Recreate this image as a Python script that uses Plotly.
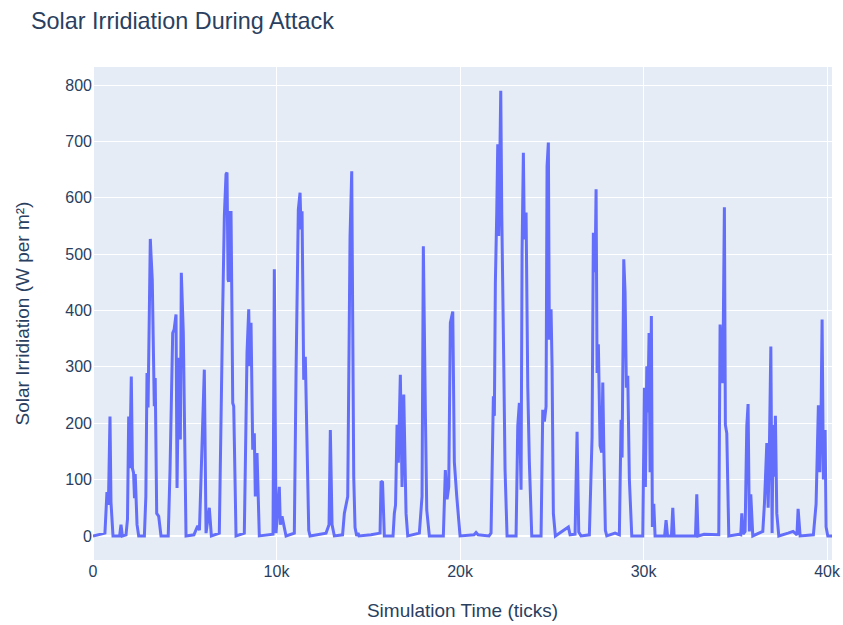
import plotly.graph_objects as go

# simulation ticks and irradiance values
ticks = [
    0, 330, 650, 760, 840, 926, 980, 1090, 1450, 1526, 1600, 1800, 1880, 1945, 2000, 2087,
    2150, 2210, 2262, 2300, 2400, 2490, 2800, 2880, 2943, 3000, 3123, 3160, 3230, 3340,
    3390, 3471, 3580, 3706, 4100, 4200, 4343, 4420, 4524, 4580, 4670, 4760, 4812, 4921,
    5000, 5069, 5500, 5706, 5800, 5886, 6066, 6160, 6338, 6450,
    6883, 7065, 7158, 7249, 7303, 7360, 7396, 7467, 7521, 7576, 7614, 7668, 7794,
    8246, 8393, 8486, 8540, 8611, 8704, 8791, 8845, 8938, 8992, 9063,
    9810, 9881, 9974, 10153, 10208, 10300, 10519,
    10971, 11064, 11118, 11189, 11282, 11336, 11391, 11483, 11570, 11647, 11756, 11827,
    12699, 12862, 12933, 13026, 13151,
    13600, 13696, 13881, 14007, 14099, 14154, 14208, 14279, 14372, 14443, 14497,
    15151, 15424, 15642, 15696, 15778, 15876,
    16350, 16421, 16486, 16568, 16639, 16748, 16841, 16933, 17004, 17059, 17151,
    17783, 17930, 18001, 18110, 18187, 18328,
    19091, 19200, 19293, 19385, 19473, 19604, 19691, 19822, 20002,
    20765, 20874, 20983, 21582,
    21691, 21817, 21871, 21926, 22002, 22056, 22111, 22165, 22220, 22274, 22329, 22383,
    22454, 22563,
    23054, 23146, 23234, 23326, 23381, 23452, 23506, 23599, 23692, 23778, 23909,
    24416, 24509, 24596, 24689, 24743, 24814, 24868, 24961, 25016, 25086, 25196,
    25904, 25997, 26269, 26378, 26470, 26596,
    27048, 27196, 27266, 27359, 27414, 27468, 27539, 27632, 27724, 27779, 27833, 27920, 27997,
    28449, 28683, 28776, 28831, 28923, 28994, 29065, 29141, 29228, 29359,
    29959, 30047, 30101, 30178, 30232, 30302, 30357, 30427, 30482, 30558, 30629,
    31150, 31228, 31310, 31520, 31594, 31665, 32830, 32902, 32973, 33300,
    34101, 34172, 34264, 34319, 34406, 34460, 34537, 34646,
    35207, 35300, 35354, 35425, 35534, 35627, 35697, 35768, 35844, 35954,
    36499, 36588, 36718, 36790, 36860, 36937, 37006, 37060, 37131, 37185, 37262, 37371,
    37878, 38150, 38360, 38423, 38532,
    39256, 39403, 39528, 39604, 39676, 39730, 39801, 39894, 39948, 40041, 40275,
]

irradiance = [
    0, 3, 5, 78, 55, 212, 60, 0, 0, 20, 0, 2, 30, 212, 120, 283,
    120, 112, 67, 110, 20, 0, 0, 70, 289, 228, 527, 500, 455, 230,
    280, 40, 35, 0, 0, 120, 360, 366, 393, 85, 316, 171, 467, 360,
    159, 0, 2, 18, 10, 100, 295, 5, 50, 0,
    5, 396, 568, 642, 645, 455, 451, 574, 574, 384, 236, 230, 0,
    5, 325, 402, 301, 378, 153, 182, 70, 147, 70, 0,
    3, 473, 5, 87, 20, 35, 0,
    5, 289, 449, 579, 609, 544, 576, 277, 318, 206, 10, 0,
    5, 20, 188, 20, 0,
    2, 40, 70, 530, 647, 318, 105, 15, 0, 5, 0,
    2, 4, 5, 97, 95, 0,
    0, 40, 55, 197, 130, 286, 87, 251, 160, 40, 0,
    5, 70, 514, 224, 46, 0,
    0, 117, 65, 87, 378, 398, 131, 70, 0,
    2, 6, 2, 0,
    5, 248, 213, 450, 574, 695, 532, 693, 790, 574, 372, 307,
    117, 0,
    0, 195, 236, 82, 503, 680, 526, 574, 265, 131, 0,
    0, 224, 203, 230, 656, 698, 348, 402, 301, 40, 0,
    16, 2, 3, 185, 7, 0,
    2, 176, 538, 468, 615, 289, 340, 160, 148, 272, 160, 10, 0,
    5, 2, 206, 139, 491, 432, 263, 284, 100, 0,
    0, 263, 87, 301, 219, 360, 113, 390, 16, 57, 0,
    0, 28, 0, 0, 50, 0, 0, 74, 0, 3,
    2, 375, 318, 271, 583, 197, 182, 0,
    3, 2, 40, 3, 8, 195, 234, 8, 74, 0,
    8, 57, 165, 50, 160, 336, 5, 197, 105, 213, 40, 0,
    5, 8, 2, 48, 0,
    2, 57, 232, 113, 224, 384, 100, 188, 16, 0, 0,
]

fig = go.Figure()
graph = go.Scatter(x=ticks, y=irradiance,
                   mode='lines',
                   line=dict(color='#636efa', width=3),
                   name='Solar Irridiation')
fig.add_trace(graph)

fig.update_layout(
    width=843, height=625,
    template='plotly',
    font=dict(family='Liberation Sans, Arial, sans-serif', size=16),
    title=dict(text='Solar Irridiation During Attack', x=31 / 843, xanchor='left',
               y=1 - 21 / 625, yanchor='middle', font=dict(size=23.4)),
    margin=dict(l=92.5, r=11.3, t=67, b=65),
    showlegend=False,
)
fig.update_xaxes(title=dict(text='Simulation Time (ticks)', standoff=24),
                 range=[0, 40270], dtick=10000, automargin=False)
fig.update_yaxes(title=dict(text='Solar Irridiation (W per m²)', standoff=30),
                 range=[-42.7, 832], automargin=False)

# drop the default page margin so the figure sits at the window's corner
fig.write_html("out.html", config={'displayModeBar': False},
               post_script="document.body.style.margin = '0';")
